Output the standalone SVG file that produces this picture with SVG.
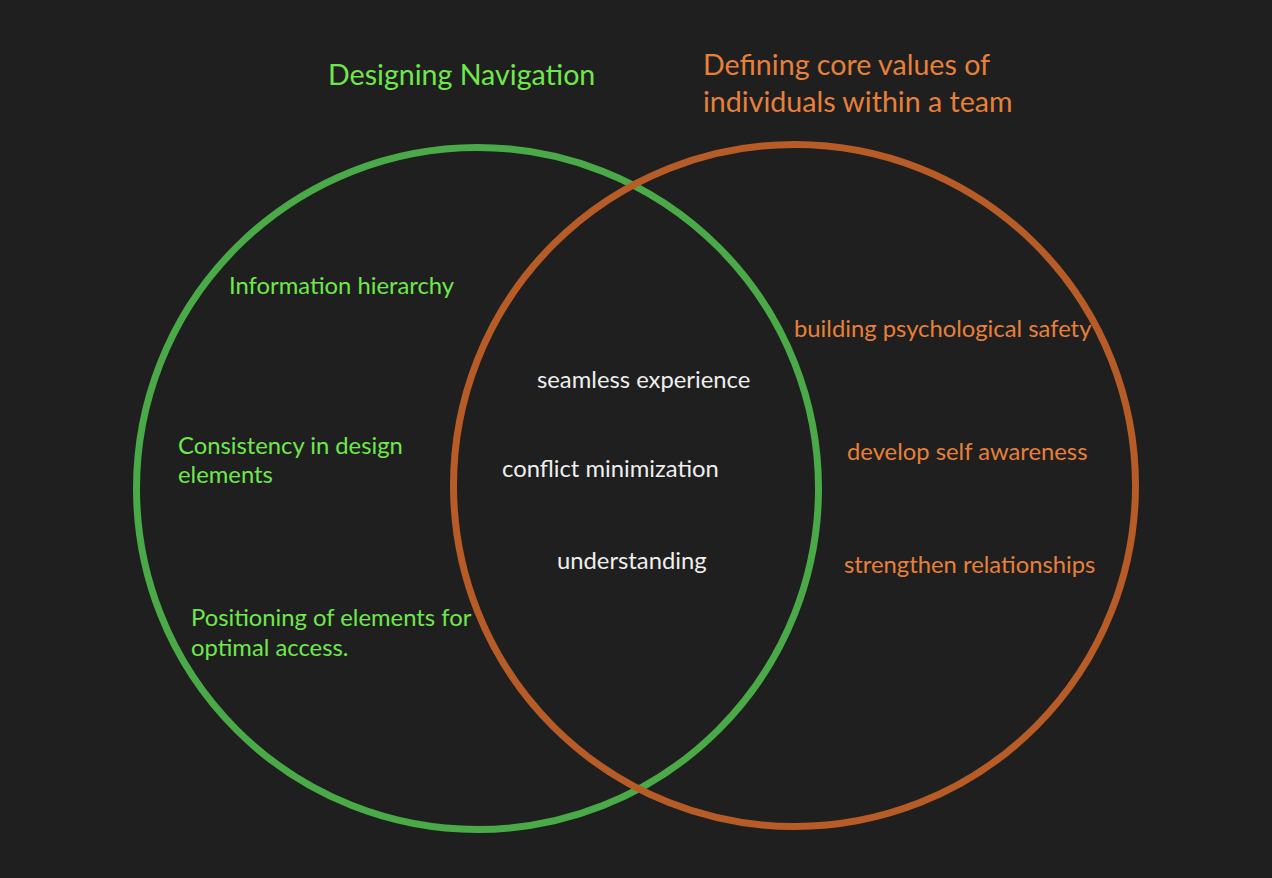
<svg xmlns="http://www.w3.org/2000/svg" width="1272" height="878" viewBox="0 0 1272 878">
<style>
text{font-family:Lato,"Open Sans","Liberation Sans",sans-serif;font-size:23.8px}
.g{fill:#6fe84c}
.o{fill:#e7803a}
.w{fill:#eeeeee}
.t{font-size:28.6px}
.ring{fill:none;stroke-width:7}
</style>
<rect width="1272" height="878" fill="#1f1f1f"/>
<g id="set-green">
<circle class="ring" cx="477.5" cy="488.5" r="341" stroke="#4aaa48"/>
</g>
<g id="set-orange">
<circle class="ring" cx="794.5" cy="485.5" r="341" stroke="#b85c27"/>
</g>
<g id="title-green"><text class="g t" x="328" y="85">Designing Navigation</text></g>
<g id="title-orange"><text class="o t" x="703" y="75">Defining core values of</text><text class="o t" x="703" y="112">individuals within a team</text></g>
<g id="g1"><text class="g" x="229" y="294">Information hierarchy</text></g>
<g id="g2"><text class="g" x="178" y="454">Consistency in design</text><text class="g" x="178" y="483">elements</text></g>
<g id="g3"><text class="g" x="191" y="626">Positioning of elements for</text><text class="g" x="191" y="656">optimal access.</text></g>
<g id="c1"><text class="w" x="537" y="388">seamless experience</text></g>
<g id="c2"><text class="w" x="502" y="477">conflict minimization</text></g>
<g id="c3"><text class="w" x="557" y="569">understanding</text></g>
<g id="o1"><text class="o" x="794" y="337">building psychological safety</text></g>
<g id="o2"><text class="o" x="847" y="460">develop self awareness</text></g>
<g id="o3"><text class="o" x="844" y="573">strengthen relationships</text></g>
</svg>
